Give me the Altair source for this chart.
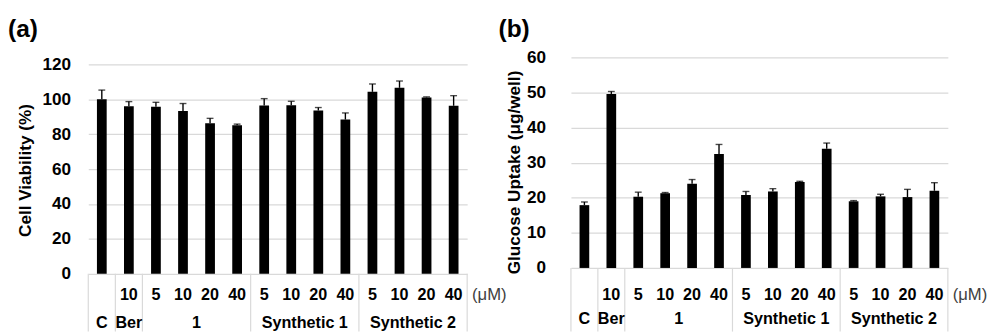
import altair as alt
import pandas as pd

# ---- data ----
keys = ["C", "Ber-10", "1-5", "1-10", "1-20", "1-40",
        "S1-5", "S1-10", "S1-20", "S1-40",
        "S2-5", "S2-10", "S2-20", "S2-40"]
doses = ["", "10", "5", "10", "20", "40", "5", "10", "20", "40", "5", "10", "20", "40"]

viability = [100.0, 96.1, 95.7, 93.3, 86.3, 85.2, 96.5, 96.6, 93.6, 88.4, 104.3, 106.6, 101.1, 96.3]
viability_err = [5.3, 2.6, 2.6, 4.3, 2.8, 0.6, 3.9, 2.3, 1.7, 3.8, 4.5, 3.9, 0.3, 5.8]

glucose = [17.9, 49.6, 20.3, 21.3, 24.0, 32.5, 20.8, 21.8, 24.5, 34.0, 19.0, 20.4, 20.2, 22.0]
glucose_err = [0.9, 0.7, 1.3, 0.2, 1.2, 2.7, 1.0, 0.8, 0.2, 1.6, 0.2, 0.6, 2.2, 2.3]

single_groups = ["C", "Ber"]
single_keys = ["C", "Ber-10"]
multi_groups = ["1", "Synthetic 1", "Synthetic 2"]
multi_center_keys = ["1-20", "S1-20", "S2-20"]
separator_keys = ["C", "Ber-10", "1-5", "S1-5", "S2-5"]
unit_label = "(\u03bcM)"

FONT = "Liberation Sans"
GRID = "#d9d9d9"


def panel(values, errs, height, ymax, ticks, ytitle, label, label_pad, title_pad,
          title_y, group_y, width, label_x):
    df = pd.DataFrame({"key": keys, "dose": doses, "val": values, "err": errs})
    xs = alt.Scale(domain=keys, paddingInner=0, paddingOuter=0)
    ys = alt.Scale(domain=[0, ymax], nice=False, zero=True)
    x = alt.X("key:N", scale=xs, axis=None, sort=keys)
    yaxis = alt.Axis(values=ticks, title=ytitle,
                     grid=True, gridColor=GRID,
                     gridWidth=1.2, domain=False, ticks=False, tickSize=0,
                     labelOverlap=False, labelFlush=False,
                     labelFont=FONT, labelFontSize=17.5, labelFontWeight="bold",
                     labelColor="black", labelPadding=label_pad,
                     titleFont=FONT, titleFontSize=17.5, titleFontWeight="bold",
                     titleColor="black", titlePadding=title_pad,
                     titleY=title_y)

    bars = alt.Chart(df).mark_bar(color="black", width=alt.RelativeBandSize(0.36)).encode(
        x=x, y=alt.Y("val:Q", scale=ys, axis=yaxis, title=ytitle))
    base_err = alt.Chart(df).transform_calculate(hi="datum.val + datum.err")
    rules = base_err.mark_rule(color="black", strokeWidth=1.4).encode(
        x=x, y=alt.Y("val:Q", scale=ys, axis=yaxis, title=ytitle), y2="hi:Q")
    caps = base_err.mark_tick(color="black", thickness=1.4, size=7,
                              orient="horizontal").encode(
        x=x, y=alt.Y("hi:Q", scale=ys, axis=yaxis, title=ytitle))

    dose_text = alt.Chart(df).mark_text(font=FONT, fontSize=16.5, fontWeight="bold",
                                        color="black", baseline="middle").encode(
        x=x, y=alt.value(243), text="dose:N")
    unit = alt.Chart(pd.DataFrame({"key": [keys[-1]], "t": [unit_label]})).mark_text(
        font=FONT, fontSize=17, color="#404040", align="left", baseline="middle", dx=5
    ).encode(x=alt.X("key:N", scale=xs, axis=None, bandPosition=1),
             y=alt.value(243), text="t:N")

    g1 = alt.Chart(pd.DataFrame({"key": single_keys, "g": single_groups})).mark_text(
        font=FONT, fontSize=16.5, fontWeight="bold", color="black", baseline="middle"
    ).encode(x=alt.X("key:N", scale=xs, axis=None, bandPosition=0.5),
             y=alt.value(group_y), text="g:N")
    g2 = alt.Chart(pd.DataFrame({"key": multi_center_keys, "g": multi_groups})).mark_text(
        font=FONT, fontSize=16.5, fontWeight="bold", color="black", baseline="middle"
    ).encode(x=alt.X("key:N", scale=xs, axis=None, bandPosition=0),
             y=alt.value(group_y), text="g:N")

    sep = alt.Chart(pd.DataFrame({"key": separator_keys})).mark_rule(
        color=GRID, strokeWidth=1.2).encode(
        x=alt.X("key:N", scale=xs, axis=None, bandPosition=0),
        y=alt.value(height), y2=alt.value(280))
    sep_end = alt.Chart(pd.DataFrame({"key": [keys[-1]]})).mark_rule(
        color=GRID, strokeWidth=1.2).encode(
        x=alt.X("key:N", scale=xs, axis=None, bandPosition=1),
        y=alt.value(height), y2=alt.value(280))

    lab = alt.Chart(pd.DataFrame({"t": [label]})).mark_text(
        font=FONT, fontSize=25, fontWeight="bold", color="black",
        align="left", baseline="top").encode(
        x=alt.value(label_x), y=alt.value(-41), text="t:N")

    return alt.layer(sep, sep_end, bars, rules, caps, dose_text, unit, g1, g2, lab
                     ).properties(width=width, height=height)


left = panel(viability, viability_err, 221, 124, [0, 20, 40, 60, 80, 100, 120],
             "Cell Viability (%)", "(a)", 18, 8, 115, 271, 387, -82)
right = panel(glucose, glucose_err, 215, 60, [0, 10, 20, 30, 40, 50, 60],
              "Glucose Uptake (\u03bcg/well)", "(b)", 26, 3, 117, 267, 385, -74)

chart = alt.hconcat(left, right, spacing=106, bounds="flush").properties(
    padding={"left": 0, "top": 6, "right": 0, "bottom": 0},
    background="white"
).configure_view(stroke=None)

chart.save("out.html", embed_options={"renderer": "svg", "actions": False})
